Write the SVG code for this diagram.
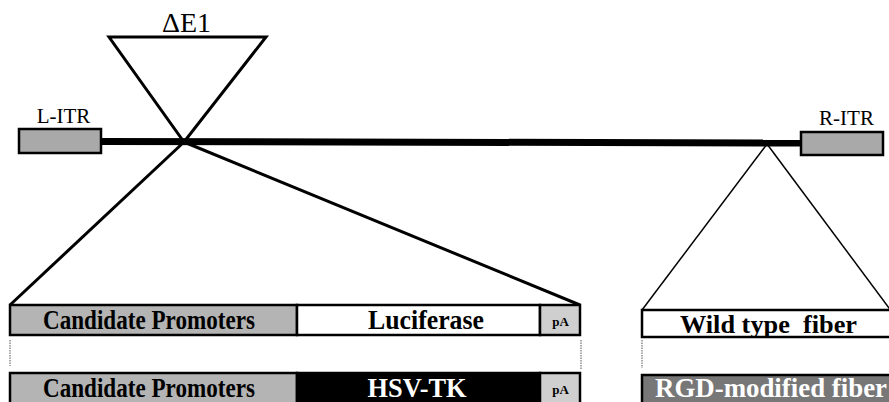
<svg xmlns="http://www.w3.org/2000/svg" width="889" height="402" viewBox="0 0 889 402">
<style>
.lbl{font-family:"Liberation Serif","Times New Roman",serif;fill:#000}
.b{font-weight:bold}
.w{fill:#fff}
.box{stroke:#000;stroke-width:2.5}
.thick{stroke:#000;fill:none;stroke-width:3}
.thin{stroke:#000;fill:none;stroke-width:1.5}
.dot{stroke:#555;stroke-width:1;stroke-dasharray:1.5 1}
</style>
<rect width="889" height="402" fill="#fff"/>
<g id="backbone">
<line x1="101" y1="141.5" x2="800" y2="143" stroke="#000" stroke-width="7"/>
</g>
<g id="L-ITR">
<rect class="box" x="19" y="129" width="82" height="24" fill="#a9a9a9"/>
<text class="lbl" x="63.5" y="123" font-size="21" text-anchor="middle">L-ITR</text>
</g>
<g id="R-ITR">
<rect class="box" x="801" y="132" width="82" height="23" fill="#a9a9a9"/>
<text class="lbl" x="846.5" y="125" font-size="21" text-anchor="middle">R-ITR</text>
</g>
<g id="deltaE1">
<polygon class="thick" points="109,37 266,37 184,142"/>
<text class="lbl" x="186.5" y="32" font-size="28" text-anchor="middle">ΔE1</text>
</g>
<g id="connectors">
<line class="thick" x1="184" y1="142" x2="10" y2="305"/>
<line class="thick" x1="184" y1="142" x2="580" y2="305"/>
<line class="thin" x1="767" y1="144" x2="642" y2="310"/>
<line class="thin" x1="767" y1="144" x2="892" y2="312"/>
<line class="dot" x1="10" y1="340" x2="10" y2="366"/>
<line class="dot" x1="581" y1="340" x2="581" y2="370"/>
<line class="dot" x1="642" y1="340" x2="642" y2="368"/>
</g>
<g id="row1">
<rect class="box" x="10" y="305" width="287" height="30" fill="#b4b4b4"/>
<rect class="box" x="297" y="305" width="243" height="30" fill="#fff"/>
<rect class="box" x="540" y="305" width="40" height="30" fill="#cfcfcf"/>
<text class="lbl b" x="149" y="329" font-size="27" textLength="212" lengthAdjust="spacingAndGlyphs" text-anchor="middle">Candidate Promoters</text>
<text class="lbl b" x="426" y="329" font-size="27" textLength="116" lengthAdjust="spacingAndGlyphs" text-anchor="middle">Luciferase</text>
<text class="lbl b" x="560.5" y="326" font-size="13" text-anchor="middle">pA</text>
</g>
<g id="row2">
<rect class="box" x="10" y="373" width="287" height="32" fill="#b4b4b4"/>
<rect class="box" x="297" y="373" width="243" height="32" fill="#000"/>
<rect class="box" x="540" y="373" width="40" height="32" fill="#cfcfcf"/>
<text class="lbl b" x="149" y="397" font-size="27" textLength="212" lengthAdjust="spacingAndGlyphs" text-anchor="middle">Candidate Promoters</text>
<text class="lbl b w" x="417" y="397" font-size="27" textLength="99" lengthAdjust="spacingAndGlyphs" text-anchor="middle">HSV-TK</text>
<text class="lbl b" x="560.5" y="394" font-size="13" text-anchor="middle">pA</text>
</g>
<g id="wildtype">
<rect class="box" x="642" y="310" width="252" height="27" fill="#fff"/>
<text class="lbl b" x="768.5" y="333" font-size="26" textLength="177" lengthAdjust="spacingAndGlyphs" text-anchor="middle">Wild type&#160; fiber</text>
</g>
<g id="rgd">
<rect class="box" x="642" y="375" width="252" height="32" fill="#777"/>
<text class="lbl b w" x="771" y="397" font-size="27" textLength="232" lengthAdjust="spacingAndGlyphs" text-anchor="middle">RGD-modified fiber</text>
</g>
</svg>
